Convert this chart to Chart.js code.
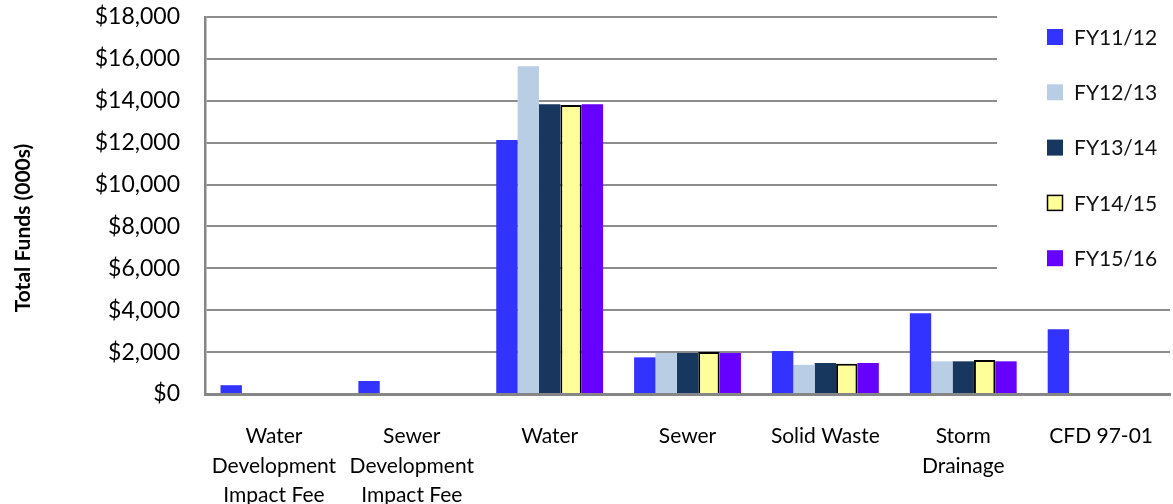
<!DOCTYPE html>
<html>
<head>
<meta charset="utf-8">
<script src="https://cdn.jsdelivr.net/npm/chart.js@4.4.1/dist/chart.umd.min.js"></script>
<style>
  html, body { margin: 0; padding: 0; background: #fff; }
  #wrap { width: 1173px; height: 504px; }
</style>
</head>
<body>
<div id="wrap"><canvas id="fundsChart"></canvas></div>
<script>
const categories = [
    ['Water', 'Development', 'Impact Fee'],
    ['Sewer', 'Development', 'Impact Fee'],
    'Water',
    'Sewer',
    'Solid Waste',
    ['Storm', 'Drainage'],
    'CFD 97-01'
];
const seriesLabels = ['FY11/12', 'FY12/13', 'FY13/14', 'FY14/15', 'FY15/16'];
const fy1112 = [420, 620, 12130, 1750, 2050, 3850, 3090];
const fy1213 = [null, null, 15650, 1960, 1390, 1560, null];
const fy1314 = [null, null, 13840, 1960, 1480, 1560, null];
const fy1415 = [null, null, 13800, 2000, 1450, 1620, null];
const fy1516 = [null, null, 13840, 1960, 1480, 1560, null];
const yTicks = [0, 2000, 4000, 6000, 8000, 10000, 12000, 14000, 16000, 18000];

const colors = ['#3333FF', '#B9CDE5', '#17375E', '#FFFF99', '#6600FF'];
const FONT = 'Lato, "Open Sans", sans-serif';

// legend + axis title drawn over the plot, like the original sheet chart
const overlayPlugin = {
    id: 'overlay',
    afterDraw(chart) {
        const ctx = chart.ctx;
        ctx.save();
        ctx.fillStyle = '#fff';
        ctx.fillRect(997, 0, 176, 292);

        chart.data.datasets.forEach((ds, i) => {
            const y = 37 + i * 55.3;
            ctx.fillStyle = ds.backgroundColor;
            ctx.fillRect(1047, y - 8, 16, 16);
            if (ds.borderWidth) {
                ctx.strokeStyle = '#000';
                ctx.lineWidth = 1.5;
                ctx.strokeRect(1047.5, y - 7.5, 15, 15);
            }
            ctx.fillStyle = '#111';
            ctx.font = '21px ' + FONT;
            ctx.textBaseline = 'middle';
            ctx.textAlign = 'left';
            ctx.fillText(ds.label, 1074, y + 1);
        });

        ctx.translate(23, 228);
        ctx.rotate(-Math.PI / 2);
        ctx.font = 'bold 21px ' + FONT;
        ctx.fillStyle = '#000';
        ctx.textAlign = 'center';
        ctx.textBaseline = 'middle';
        ctx.fillText('Total Funds (000s)', 0, 0);
        ctx.restore();
    }
};

const seriesData = [fy1112, fy1213, fy1314, fy1415, fy1516];

new Chart(document.getElementById('fundsChart'), {
    type: 'bar',
    data: {
        labels: categories,
        datasets: seriesData.map((vals, i) => ({
            label: seriesLabels[i],
            data: vals,
            backgroundColor: colors[i],
            borderColor: '#000',
            borderWidth: i === 3 ? 2 : 0,
            categoryPercentage: 0.775,
            barPercentage: 1
        }))
    },
    options: {
        responsive: true,
        maintainAspectRatio: false,
        animation: false,
        layout: { padding: { top: 17, right: 0, left: 0, bottom: 0 } },
        plugins: {
            legend: { display: false },
            tooltip: { enabled: false }
        },
        scales: {
            x: {
                grid: { display: false },
                border: { color: '#868686', width: 3 },
                ticks: {
                    color: '#000',
                    font: { family: FONT, size: 21, lineHeight: 1.4 },
                    padding: 20,
                    maxRotation: 0,
                    autoSkip: false
                },
                afterFit: s => { s.height = 110; }
            },
            y: {
                min: 0,
                max: 18000,
                afterBuildTicks: s => { s.ticks = yTicks.map(v => ({ value: v })); },
                grid: { color: '#8C8C8C', lineWidth: 2, tickLength: 25, tickColor: 'rgba(0,0,0,0)' },
                border: { color: '#868686', width: 2.5 },
                ticks: {
                    color: '#000',
                    font: { family: FONT, size: 23 },
                    padding: 0,
                    callback: v => '$' + v.toLocaleString('en-US')
                },
                afterFit: s => { s.width = 205; }
            }
        }
    },
    plugins: [overlayPlugin]
});
</script>
</body>
</html>
